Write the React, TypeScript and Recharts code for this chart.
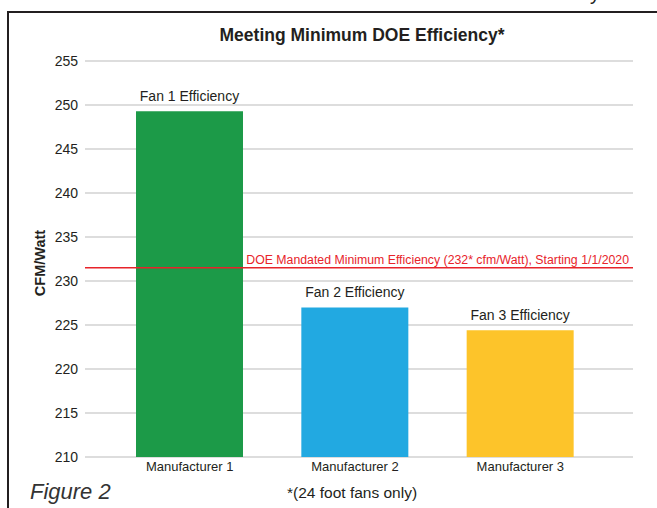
import { BarChart, Bar, XAxis, YAxis, CartesianGrid, ReferenceLine, LabelList, Cell } from "recharts";

const manufacturers = ["Manufacturer 1", "Manufacturer 2", "Manufacturer 3"];
const fanLabels = ["Fan 1 Efficiency", "Fan 2 Efficiency", "Fan 3 Efficiency"];
const efficiency = [249.3, 227.0, 224.4];
const barColors = ["#1c9a48", "#22a9e1", "#fdc42a"];
const yTicks = [210, 215, 220, 225, 230, 235, 240, 245, 250, 255];
const doeMinimum = 231.5;

const data = manufacturers.map((name, i) => ({ name, label: fanLabels[i], value: efficiency[i] }));

const font = '"Liberation Sans", Arial, Helvetica, sans-serif';
const ink = "#231f20";

export default function App() {
  return (
    <div style={{ position: "absolute", left: 0, top: 0, width: 657, height: 508, overflow: "hidden", background: "#fff", fontFamily: font }}>
      <span style={{ position: "absolute", left: 590, top: -17, fontSize: 20, lineHeight: "20px", color: ink }}>y</span>
      <div style={{ position: "absolute", left: 7, top: 11, width: 700, height: 600, borderTop: `2px solid ${ink}`, borderLeft: `2px solid ${ink}` }} />
      <div style={{ position: "absolute", left: 0, top: 25, width: 724, textAlign: "center", fontSize: 17.5, fontWeight: "bold", color: ink }}>
        Meeting Minimum DOE Efficiency*
      </div>
      <BarChart
        width={657}
        height={508}
        data={data}
        margin={{ top: 61, right: 24, bottom: 21, left: 0 }}
        style={{ position: "absolute", left: 0, top: 0 }}
      >
        <CartesianGrid vertical={false} stroke="#d2d2d2" strokeWidth={1.5} />
        <XAxis
          dataKey="name"
          height={30}
          axisLine={false}
          tickLine={false}
          tickSize={3}
          padding={{ left: 22, right: 30 }}
          tick={{ fill: ink, fontSize: 13, fontFamily: font }}
        />
        <YAxis
          width={85}
          domain={[210, 255]}
          ticks={yTicks}
          allowDataOverflow
          axisLine={false}
          tickLine={false}
          tickMargin={1}
          tick={{ fill: ink, fontSize: 14, fontFamily: font }}
        />
        <ReferenceLine
          y={doeMinimum}
          stroke="#e8232a"
          strokeWidth={1.5}
          label={{
            value: "DOE Mandated Minimum Efficiency (232* cfm/Watt), Starting 1/1/2020",
            position: "insideBottomRight",
            offset: 4,
            fill: "#e8232a",
            fontSize: 12.3,
            fontFamily: font,
          }}
        />
        <Bar dataKey="value" barSize={107} isAnimationActive={false}>
          {data.map((d, i) => (
            <Cell key={d.name} fill={barColors[i]} />
          ))}
          <LabelList dataKey="label" position="top" offset={10} fill={ink} fontSize={14} fontFamily={font} />
        </Bar>
      </BarChart>
      <div
        style={{
          position: "absolute",
          left: 40,
          top: 263,
          transform: "translate(-50%, -50%) rotate(-90deg)",
          whiteSpace: "nowrap",
          fontSize: 14.5,
          fontWeight: "bold",
          color: ink,
        }}
      >
        CFM/Watt
      </div>
      <div style={{ position: "absolute", left: 30, top: 479, fontSize: 22, fontStyle: "italic", fontWeight: 300, color: "#333", lineHeight: "26px" }}>
        Figure 2
      </div>
      <div style={{ position: "absolute", left: 287, top: 483, fontSize: 15.5, color: ink, lineHeight: "20px" }}>
        *(24 foot fans only)
      </div>
    </div>
  );
}
